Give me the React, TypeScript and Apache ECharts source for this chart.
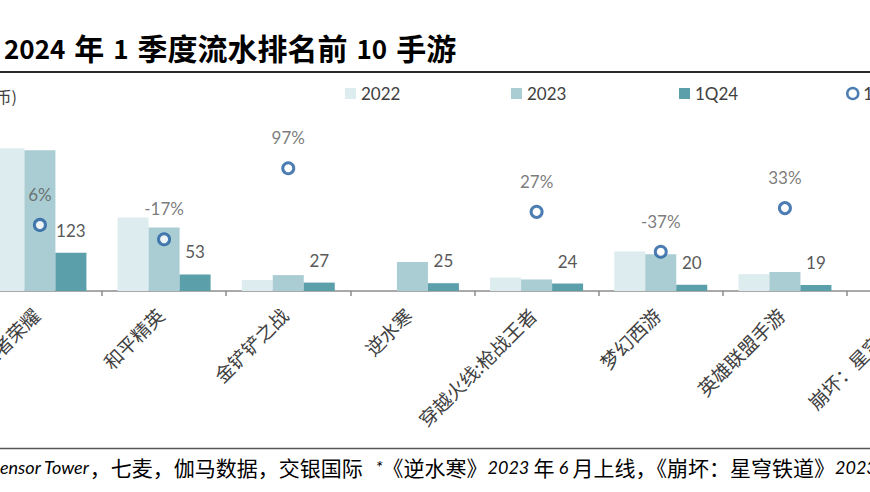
import React, { useEffect, useRef } from "react";
import * as echarts from "echarts";

const categories = ["王者荣耀", "和平精英", "金铲铲之战", "逆水寒", "穿越火线:枪战王者", "梦幻西游", "英雄联盟手游", "崩坏：星穹铁道"];
const rev2022 = [458, 236, 35, null, 43, 127, 54, null];
const rev2023 = [452, 204, 51, 93, 37, 118, 61, 60];
const rev1Q24 = [123, 53, 27, 25, 24, 20, 19, 18];
const yoy1Q24 = [6, -17, 97, null, 27, -37, 33, null];
const legendNames = ["2022", "2023", "1Q24", "1Q24 同比"];
const titleText = "2024 年 1 季度流水排名前 10 手游";
const unitText = "(亿人民币)";
const sourceText = "资料来源：Sensor Tower，七麦，伽马数据，交银国际   *《逆水寒》2023 年 6 月上线，《崩坏：星穹铁道》2023 年 4 月上线";

const OFF = 200;
const CHART_W = 1200;
const CHART_H = 492;

const CJK_RE = /[\u3000-\u303f\u3400-\u9fff\uff00-\uffef]/;

function toRich(text: string, cKey: string, lKey: string, sKey?: string) {
  const runs: { k: string; t: string }[] = [];
  for (const ch of text) {
    let k = CJK_RE.test(ch) ? cKey : lKey;
    if (sKey && ch === " ") k = sKey;
    const last = runs[runs.length - 1];
    if (last && last.k === k) last.t += ch;
    else runs.push({ k, t: ch });
  }
  return runs.map((r) => `{${r.k}|${r.t}}`).join("");
}

export default function App() {
  const ref = useRef<HTMLDivElement>(null);
  useEffect(() => {
    if (!ref.current) return;
    const chart = echarts.init(ref.current, null, { renderer: "svg" });
    const srcLatFont = 'italic 18px Lato, "Noto Sans CJK SC"';
    const srcCjkFont = '21px "Noto Sans CJK SC"';
    let prefixW = 110;
    try {
      const c = document.createElement("canvas").getContext("2d");
      if (c) {
        c.font = srcCjkFont;
        const w1 = c.measureText("资料来源：").width;
        c.font = srcLatFont;
        const w2 = c.measureText("S").width;
        prefixW = w1 + w2;
      }
    } catch (e) {}
    const labelColor = "#595959";
    const ringColor = "#1F5C9F";
    const legendCommon = {
      itemWidth: 11,
      itemHeight: 11,
      itemGap: 0,
      padding: 0,
      top: 85,
      textStyle: { fontFamily: "Lato", fontSize: 17, color: "#404040" },
    };
    chart.setOption({
      animation: false,
      grid: { left: OFF - 22.17, top: 104, width: 124.17 * 8, height: 187 },
      legend: [
        { ...legendCommon, left: OFF + 345, data: [{ name: legendNames[0], icon: "rect" }] },
        { ...legendCommon, left: OFF + 511, data: [{ name: legendNames[1], icon: "rect" }] },
        { ...legendCommon, left: OFF + 679, data: [{ name: legendNames[2], icon: "rect" }] },
        {
          ...legendCommon,
          left: OFF + 846,
          data: [
            {
              name: legendNames[3],
              icon: "circle",
              itemStyle: { color: "#ffffff", borderColor: ringColor, borderWidth: 2.5 },
            },
          ],
        },
      ],
      xAxis: {
        type: "category",
        data: categories,
        axisLine: { lineStyle: { color: "#8c8c8c", width: 1.5 } },
        axisTick: { show: true, length: 5, lineStyle: { color: "#8c8c8c", width: 1.5 } },
        axisLabel: {
          interval: 0,
          rotate: 45,
          margin: 16,
          padding: [0, 6, 0, 0],
          fontSize: 19,
          fontFamily: "Noto Sans CJK SC",
          color: "#404040",
        },
      },
      yAxis: [
        { type: "value", min: 0, max: 600, show: false, splitLine: { show: false } },
        { type: "value", min: -100, max: 200, show: false, splitLine: { show: false } },
      ],
      series: [
        {
          name: legendNames[0],
          type: "bar",
          data: rev2022,
          barWidth: 31,
          barGap: "0%",
          itemStyle: { color: "#DDECEF" },
        },
        {
          name: legendNames[1],
          type: "bar",
          data: rev2023,
          barWidth: 31,
          barGap: "0%",
          itemStyle: { color: "#A9CDD3" },
        },
        {
          name: legendNames[2],
          type: "bar",
          data: rev1Q24,
          barWidth: 31,
          barGap: "0%",
          itemStyle: { color: "#5A9FAA" },
          label: {
            show: true,
            position: "top",
            distance: 14,
            fontFamily: "Lato",
            fontSize: 17,
            color: labelColor,
          },
        },
        {
          name: legendNames[3],
          type: "scatter",
          yAxisIndex: 1,
          data: yoy1Q24,
          symbol: "circle",
          symbolSize: 11,
          z: 5,
          itemStyle: { color: "#ffffff", borderColor: ringColor, borderWidth: 3 },
          label: {
            show: true,
            position: "top",
            distance: 15,
            fontFamily: "Lato",
            fontSize: 17,
            color: labelColor,
            formatter: (p: any) => p.value + "%",
          },
        },
      ],
      graphic: [
        {
          type: "text",
          x: OFF + 4,
          y: 47,
          style: {
            text: toRich(titleText, "tc", "tl", "ts"),
            verticalAlign: "middle",
            rich: {
              tc: { fontFamily: "Noto Sans CJK SC", fontWeight: "bold", fontSize: 30, lineHeight: 36, color: "#111111" },
              tl: { fontFamily: "Noto Sans CJK SC", fontWeight: "bold", fontSize: 26, lineHeight: 36, color: "#111111" },
              ts: { fontFamily: "Noto Sans CJK SC", fontSize: 40, lineHeight: 36 },
            },
          },
        },
        {
          type: "line",
          shape: { x1: 0, y1: 72, x2: CHART_W, y2: 72 },
          style: { stroke: "#2b2b2b", lineWidth: 2 },
        },
        {
          type: "text",
          x: OFF + 17,
          y: 96,
          style: {
            text: unitText,
            font: '16px "Noto Sans CJK SC"',
            fill: "#404040",
            align: "right",
            verticalAlign: "middle",
          },
        },
        {
          type: "line",
          shape: { x1: 0, y1: 448.5, x2: CHART_W, y2: 448.5 },
          style: { stroke: "#555555", lineWidth: 1.5 },
        },
        {
          type: "text",
          x: OFF - prefixW,
          y: 467,
          style: {
            text: toRich(sourceText, "sc", "sl"),
            verticalAlign: "middle",
            rich: {
              sc: { fontFamily: "Noto Sans CJK SC", fontSize: 21, lineHeight: 26, color: "#222222" },
              sl: { fontFamily: "Lato", fontStyle: "italic", fontSize: 18, lineHeight: 26, color: "#222222" },
            },
          },
        },
      ],
    });
    return () => chart.dispose();
  }, []);
  return (
    <div style={{ position: "fixed", left: 0, top: 0, width: 870, height: 492, overflow: "hidden", background: "#fff" }}>
      <div ref={ref} style={{ position: "absolute", left: -OFF, top: 0, width: CHART_W, height: CHART_H }} />
    </div>
  );
}
